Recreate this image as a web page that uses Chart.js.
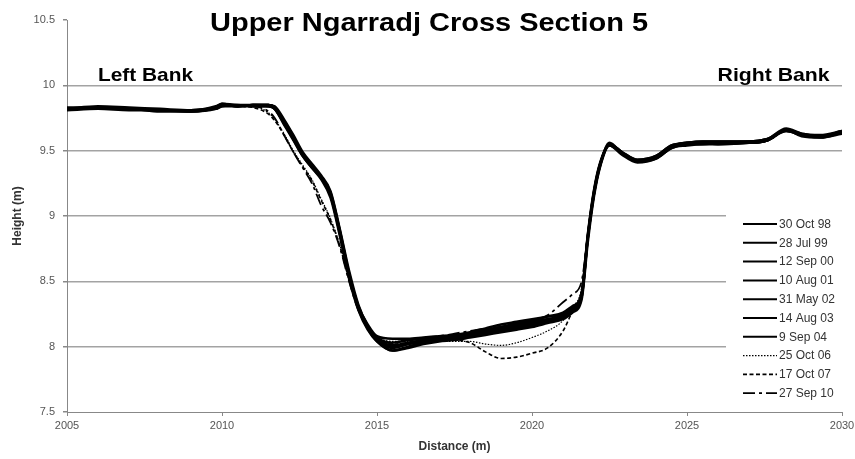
<!DOCTYPE html>
<html>
<head>
<meta charset="utf-8">
<script src="https://cdn.jsdelivr.net/npm/chart.js@4"></script>
<style>
  html, body { margin: 0; padding: 0; background: #fff; }
  #wrap { width: 855px; height: 459px; }
</style>
</head>
<body>
<div id="wrap"><canvas id="c" width="855" height="459"></canvas></div>
<script>
const chartTitle = 'Upper Ngarradj Cross Section 5';
const leftBankLabel = 'Left Bank';
const rightBankLabel = 'Right Bank';
const xTitle = 'Distance (m)';
const yTitle = 'Height (m)';
const xTicks = [2005, 2010, 2015, 2020, 2025, 2030];
const yTicks = [7.5, 8, 8.5, 9, 9.5, 10, 10.5];

const distance = [2005, 2006, 2007, 2008, 2009, 2009.8, 2010, 2010.5, 2011, 2011.5, 2011.7, 2012, 2012.3, 2012.6, 2012.9, 2013.2, 2013.5, 2013.8, 2014.1, 2014.4, 2014.7, 2015, 2015.5, 2016, 2016.5, 2017, 2017.5, 2018, 2018.5, 2019, 2019.5, 2020, 2020.5, 2021, 2021.3, 2021.6, 2021.8, 2022, 2022.2, 2022.5, 2022.9, 2023.4, 2024, 2024.5, 2025, 2025.5, 2026, 2027, 2027.6, 2028.2, 2028.7, 2029.3, 2030];

const labels = ['30 Oct 98', '28 Jul 99', '12 Sep 00', '10 Aug 01', '31 May 02', '14 Aug 03', '9 Sep 04', '25 Oct 06', '17 Oct 07', '27 Sep 10'];

const h98 = [9.82,9.83,9.82,9.81,9.81,9.83,9.85,9.84,9.85,9.85,9.83,9.72,9.60,9.47,9.38,9.30,9.17,8.88,8.55,8.30,8.15,8.05,7.99,8.02,8.04,8.05,8.06,8.08,8.10,8.12,8.14,8.16,8.19,8.22,8.27,8.38,8.84,9.18,9.40,9.55,9.48,9.42,9.45,9.53,9.55,9.56,9.56,9.56,9.58,9.66,9.62,9.61,9.64];
const h99 = [9.82,9.82,9.81,9.81,9.80,9.83,9.86,9.84,9.84,9.84,9.82,9.70,9.58,9.46,9.37,9.28,9.14,8.85,8.52,8.28,8.13,8.04,7.97,7.99,8.02,8.04,8.05,8.07,8.09,8.11,8.13,8.15,8.18,8.21,8.26,8.36,8.80,9.15,9.38,9.54,9.47,9.41,9.44,9.52,9.55,9.55,9.56,9.57,9.59,9.67,9.63,9.62,9.65];
const h00 = [9.83,9.83,9.82,9.81,9.81,9.82,9.84,9.84,9.85,9.85,9.84,9.74,9.62,9.49,9.40,9.31,9.19,8.90,8.58,8.32,8.16,8.07,8.03,8.05,8.06,8.07,8.08,8.10,8.12,8.14,8.16,8.18,8.21,8.24,8.29,8.40,8.86,9.20,9.41,9.55,9.49,9.43,9.46,9.54,9.56,9.57,9.57,9.57,9.59,9.65,9.62,9.60,9.64];
const h01 = [9.82,9.84,9.83,9.82,9.81,9.84,9.86,9.85,9.85,9.85,9.83,9.72,9.59,9.46,9.37,9.29,9.16,8.87,8.54,8.29,8.14,8.04,7.97,8.00,8.03,8.05,8.07,8.09,8.12,8.15,8.17,8.19,8.21,8.23,8.28,8.39,8.83,9.17,9.39,9.56,9.48,9.42,9.45,9.53,9.56,9.56,9.55,9.56,9.58,9.66,9.61,9.60,9.63];
const h02 = [9.81,9.82,9.82,9.80,9.80,9.82,9.84,9.85,9.84,9.84,9.82,9.71,9.59,9.47,9.38,9.30,9.18,8.89,8.56,8.31,8.17,8.08,8.06,8.06,8.07,8.08,8.09,8.11,8.14,8.17,8.19,8.21,8.23,8.25,8.30,8.41,8.85,9.19,9.40,9.54,9.48,9.42,9.44,9.52,9.54,9.55,9.55,9.56,9.58,9.65,9.62,9.61,9.64];
const h03 = [9.82,9.83,9.82,9.81,9.80,9.83,9.85,9.84,9.85,9.85,9.83,9.73,9.61,9.48,9.39,9.30,9.17,8.88,8.55,8.30,8.15,8.06,8.01,8.03,8.05,8.06,8.08,8.10,8.13,8.15,8.18,8.20,8.23,8.26,8.31,8.40,8.84,9.18,9.40,9.55,9.48,9.42,9.45,9.53,9.55,9.56,9.56,9.56,9.58,9.66,9.63,9.61,9.64];
const h04 = [9.82,9.83,9.82,9.81,9.81,9.83,9.85,9.84,9.85,9.84,9.82,9.71,9.59,9.47,9.38,9.29,9.16,8.87,8.55,8.30,8.15,8.05,8.00,8.02,8.04,8.05,8.07,8.09,8.11,8.13,8.15,8.17,8.20,8.23,8.28,8.38,8.83,9.17,9.39,9.55,9.49,9.43,9.46,9.54,9.56,9.57,9.57,9.57,9.59,9.66,9.62,9.61,9.65];
const h06 = [9.82,9.83,9.82,9.81,9.81,9.83,9.85,9.84,9.84,9.79,9.74,9.63,9.50,9.39,9.28,9.13,8.98,8.78,8.52,8.30,8.16,8.08,8.04,8.04,8.04,8.04,8.04,8.04,8.02,8.01,8.03,8.07,8.12,8.20,8.30,8.45,8.86,9.15,9.38,9.54,9.48,9.42,9.45,9.53,9.55,9.56,9.56,9.56,9.58,9.65,9.62,9.61,9.64];
const h07 = [9.82,9.83,9.82,9.81,9.81,9.83,9.85,9.84,9.83,9.78,9.73,9.62,9.49,9.38,9.27,9.12,8.97,8.77,8.51,8.29,8.15,8.06,8.02,8.03,8.04,8.05,8.05,8.03,7.96,7.91,7.92,7.95,7.99,8.12,8.27,8.42,8.84,9.16,9.39,9.54,9.48,9.42,9.45,9.53,9.55,9.56,9.56,9.56,9.58,9.65,9.62,9.61,9.64];
const h10 = [9.82,9.83,9.82,9.81,9.81,9.83,9.85,9.84,9.84,9.80,9.75,9.62,9.49,9.37,9.25,9.08,8.95,8.76,8.50,8.28,8.15,8.07,8.03,8.05,8.07,8.08,8.10,8.12,8.14,8.15,8.17,8.20,8.24,8.34,8.40,8.50,8.85,9.17,9.39,9.55,9.48,9.42,9.45,9.53,9.55,9.56,9.56,9.56,9.58,9.66,9.62,9.61,9.64];

const heights = [h98, h99, h00, h01, h02, h03, h04, h06, h07, h10];
const dashes = [[], [], [], [], [], [], [], [1.5, 1.5], [4, 2.5], [12, 4, 3, 4]];
const widths = [2.5, 2.5, 2.5, 2.5, 2.5, 2.5, 2.5, 1.2, 1.6, 1.8];

const FONT = "'Liberation Sans', Arial, sans-serif";

const datasets = heights.map((h, k) => ({
  label: labels[k],
  data: distance.map((d, i) => ({ x: d, y: h[i] })),
  borderColor: '#000',
  backgroundColor: '#000',
  borderWidth: widths[k],
  borderDash: dashes[k],
  pointRadius: 0,
  fill: false,
  cubicInterpolationMode: 'monotone'
}));

function stretchedText(ctx, text, x, y, targetWidth, align) {
  const w = ctx.measureText(text).width;
  const sx = targetWidth / w;
  ctx.save();
  ctx.translate(x, y);
  ctx.scale(sx, 1);
  ctx.textAlign = align;
  ctx.fillText(text, 0, 0);
  ctx.restore();
}

const overlay = {
  id: 'overlay',
  afterDraw(chart) {
    const ctx = chart.ctx;
    const xs = chart.scales.x, ys = chart.scales.y;
    ctx.save();
    ctx.fillStyle = '#000';
    // Title
    ctx.font = "bold 25px " + FONT;
    ctx.textBaseline = 'alphabetic';
    stretchedText(ctx, chartTitle, 429, 31, 438, 'center');
    // Bank labels
    ctx.font = "bold 19px " + FONT;
    stretchedText(ctx, leftBankLabel, xs.getPixelForValue(2006), ys.getPixelForValue(10.03), 95, 'left');
    stretchedText(ctx, rightBankLabel, xs.getPixelForValue(2029.6), ys.getPixelForValue(10.03), 112, 'right');
    // Legend box
    ctx.fillStyle = '#fff';
    ctx.fillRect(726, 211, 128, 198);
    ctx.font = "12px " + FONT;
    ctx.textAlign = 'left';
    ctx.textBaseline = 'middle';
    chart.data.datasets.forEach((ds, k) => {
      const y = 224 + k * 18.8;
      ctx.strokeStyle = '#000';
      ctx.lineWidth = Math.min(ds.borderWidth, 2);
      ctx.setLineDash(ds.borderDash);
      ctx.beginPath();
      ctx.moveTo(743, y);
      ctx.lineTo(777, y);
      ctx.stroke();
      ctx.setLineDash([]);
      ctx.fillStyle = '#333';
      ctx.fillText(ds.label, 779, y + 0.5);
    });
    ctx.restore();
  }
};

new Chart(document.getElementById('c'), {
  type: 'line',
  data: { datasets },
  options: {
    responsive: false,
    animation: false,
    events: [],
    layout: { padding: { top: 20, left: 8, right: 13, bottom: 2 } },
    plugins: { legend: { display: false }, tooltip: { enabled: false }, title: { display: false } },
    scales: {
      x: {
        type: 'linear',
        min: xTicks[0], max: xTicks[xTicks.length - 1],
        afterBuildTicks: s => { s.ticks = xTicks.map(v => ({ value: v })); },
        afterFit: s => { s.height = 45; s.paddingRight = 0; s.paddingLeft = 0; },
        ticks: { callback: v => String(v), font: { family: FONT, size: 11 }, color: '#555', padding: 3, maxRotation: 0 },
        grid: { drawOnChartArea: false, drawTicks: true, tickLength: 4, color: '#888' },
        border: { color: '#888', width: 1 },
        title: { display: true, text: xTitle, font: { family: FONT, size: 12, weight: 'bold' }, color: '#333', padding: { top: 2, bottom: 3 } }
      },
      y: {
        min: yTicks[0], max: yTicks[yTicks.length - 1],
        afterBuildTicks: s => { s.ticks = yTicks.map(v => ({ value: v })); },
        afterFit: s => { s.width = 59; },
        ticks: { callback: v => String(v), font: { family: FONT, size: 11 }, color: '#555', padding: 8 },
        grid: {
          color: c => (c.tick && (c.tick.value === 10.5 || c.tick.value === 7.5)) ? 'rgba(0,0,0,0)' : '#a3a3a3',
          lineWidth: 1.5,
          tickColor: '#888',
          tickLength: 4
        },
        border: { color: '#888', width: 1 },
        title: { display: true, text: yTitle, font: { family: FONT, size: 12, weight: 'bold' }, color: '#333', padding: { top: 2, bottom: 2 } }
      }
    }
  },
  plugins: [overlay]
});
</script>
</body>
</html>
